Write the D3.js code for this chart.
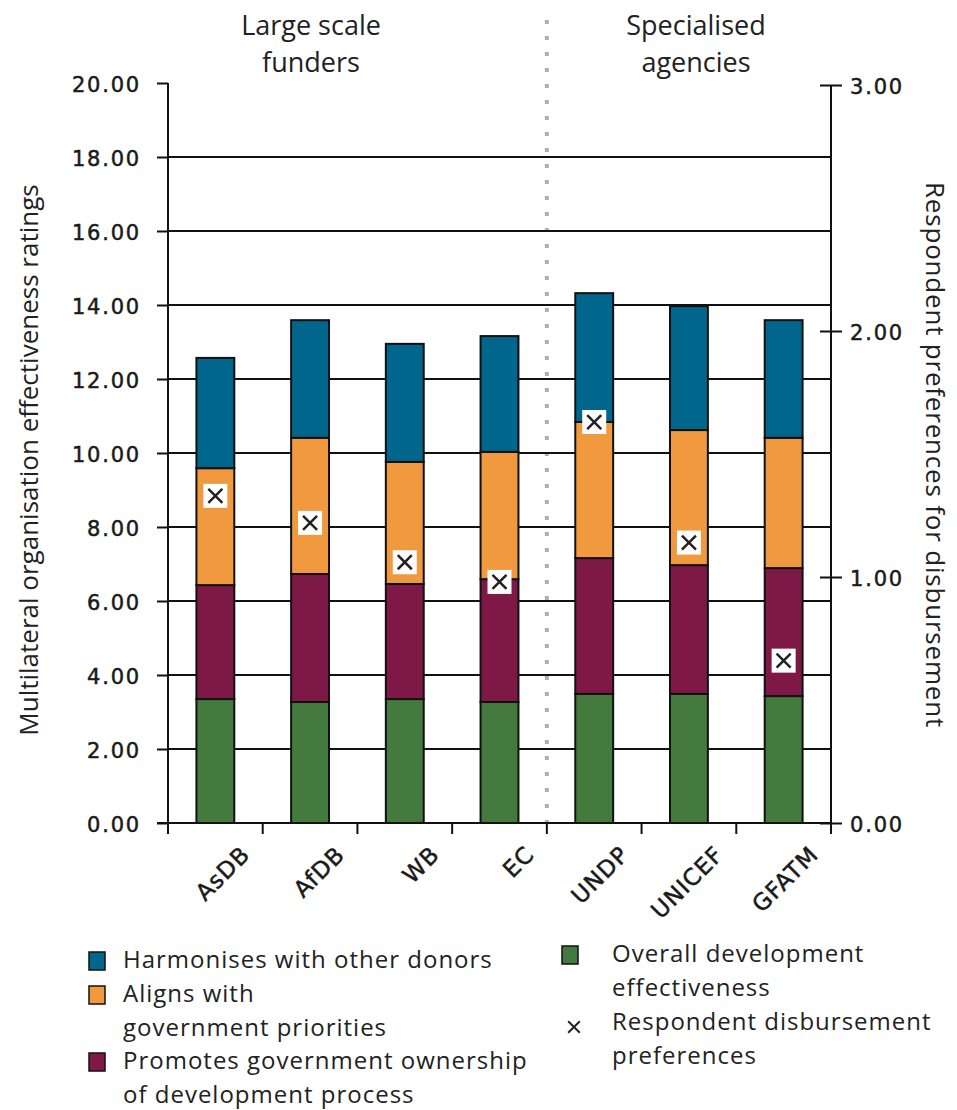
<!DOCTYPE html>
<html>
<head>
<meta charset="utf-8">
<script src="https://cdn.jsdelivr.net/npm/d3@7"></script>
<style>
  body { margin: 0; background: #fff; }
  .lbl { font-family: 'Open Sans', Lato, sans-serif; fill: #222; }
  .tick-lbl { font-family: 'DejaVu Sans', sans-serif; fill: #1a1a1a; stroke: #1a1a1a; stroke-width: 0.5px; }
</style>
</head>
<body>
<svg id="chart" width="957" height="1110"></svg>
<script>
// data
const categories = ['AsDB', 'AfDB', 'WB', 'EC', 'UNDP', 'UNICEF', 'GFATM'];
const overall    = [3.35, 3.27, 3.35, 3.27, 3.49, 3.49, 3.43];
const ownership  = [3.08, 3.46, 3.11, 3.32, 3.67, 3.48, 3.46];
const aligns     = [3.16, 3.68, 3.30, 3.44, 3.68, 3.65, 3.52];
const harmonises = [2.98, 3.18, 3.19, 3.13, 3.48, 3.35, 3.18];
const preferences = [1.33, 1.22, 1.06, 0.98, 1.63, 1.14, 0.66];
const seriesKeys = ['overall', 'ownership', 'aligns', 'harmonises'];
const leftTicks = [0, 2, 4, 6, 8, 10, 12, 14, 16, 18, 20];
const rightTicks = [0, 1, 2, 3];
const groupLabels = [['Large scale', 'funders'], ['Specialised', 'agencies']];

const colors = {overall: '#447a3e', ownership: '#7e1847', aligns: '#f0993f', harmonises: '#00668c'};

const svg = d3.select('#chart');
const margin = {top: 83, right: 126, bottom: 287, left: 168};
const width = +svg.attr('width');
const height = +svg.attr('height');
const x0 = margin.left, x1 = width - margin.right;
const yBottom = height - margin.bottom;

const table = categories.map((c, i) => ({
  cat: c, overall: overall[i], ownership: ownership[i], aligns: aligns[i],
  harmonises: harmonises[i], pref: preferences[i]
}));
const stacked = d3.stack().keys(seriesKeys)(table);

const xScale = d3.scaleBand().domain(categories).range([x0, x1])
  .paddingInner(0.6).paddingOuter(0.3);
const yScale = d3.scaleLinear().domain([0, 20]).range([yBottom, margin.top]);
const yRight = d3.scaleLinear().domain([0, 3]).range([yBottom, margin.top + 2]);

// separator between the two groups
const sepX = xScale('UNDP') - xScale.step() * xScale.paddingInner() / 2;
svg.append('line')
  .attr('x1', sepX).attr('x2', sepX)
  .attr('y1', 20).attr('y2', yBottom)
  .attr('stroke', '#b0b0b0').attr('stroke-width', 4)
  .attr('stroke-dasharray', '4,12');

// gridlines
svg.append('g').selectAll('line')
  .data(leftTicks.filter(d => d > 0 && d < 20))
  .enter().append('line')
  .attr('x1', x0).attr('x2', x1)
  .attr('y1', d => yScale(d)).attr('y2', d => yScale(d))
  .attr('stroke', '#111').attr('stroke-width', 2);

// stacked bars
svg.append('g').selectAll('g')
  .data(stacked)
  .enter().append('g')
  .attr('fill', d => colors[d.key])
  .selectAll('rect')
  .data(d => d)
  .enter().append('rect')
  .attr('x', d => xScale(d.data.cat))
  .attr('width', xScale.bandwidth())
  .attr('y', d => yScale(d[1]))
  .attr('height', d => yScale(d[0]) - yScale(d[1]))
  .attr('stroke', '#111').attr('stroke-width', 2);

// x axis line and ticks at band boundaries
svg.append('line')
  .attr('x1', x0 - 11).attr('x2', x1)
  .attr('y1', yBottom).attr('y2', yBottom)
  .attr('stroke', '#111').attr('stroke-width', 2);
svg.append('g').selectAll('line')
  .data(d3.range(categories.length + 1))
  .enter().append('line')
  .attr('x1', i => x0 + i * xScale.step()).attr('x2', i => x0 + i * xScale.step())
  .attr('y1', yBottom).attr('y2', yBottom + 11)
  .attr('stroke', '#111').attr('stroke-width', 2);

svg.append('g').selectAll('text')
  .data(categories)
  .enter().append('text')
  .attr('class', 'tick-lbl')
  .attr('text-anchor', 'end')
  .attr('font-size', 23)
  .attr('letter-spacing', 1)
  .attr('transform', d => `translate(${xScale(d) + xScale.bandwidth() / 2 + 36}, ${yBottom + 33}) rotate(-45)`)
  .text(d => d);

// left axis
const yAxisG = svg.append('g')
  .attr('transform', `translate(${x0}, 0)`)
  .call(d3.axisLeft(yScale).tickValues(leftTicks).tickSize(11).tickFormat(d3.format('.2f')));
yAxisG.select('.domain').remove();
yAxisG.append('line').attr('y1', yScale(20)).attr('y2', yBottom + 11)
  .attr('stroke', '#111').attr('stroke-width', 2);
yAxisG.selectAll('.tick line').attr('stroke', '#111').attr('stroke-width', 2);
yAxisG.selectAll('.tick text')
  .attr('class', 'tick-lbl')
  .attr('x', -27).attr('dy', '0.4em')
  .attr('font-size', 21).attr('letter-spacing', 1.8);

// right axis
const yRightG = svg.append('g')
  .attr('transform', `translate(${x1}, 0)`)
  .call(d3.axisRight(yRight).tickValues(rightTicks).tickSize(11).tickFormat(d3.format('.2f')));
yRightG.select('.domain').remove();
yRightG.append('line').attr('y1', yRight(3)).attr('y2', yBottom)
  .attr('stroke', '#111').attr('stroke-width', 2);
yRightG.selectAll('.tick line').attr('x1', -11).attr('stroke', '#111').attr('stroke-width', 2);
yRightG.selectAll('.tick text')
  .attr('class', 'tick-lbl')
  .attr('x', 19).attr('dy', '0.4em')
  .attr('font-size', 21).attr('letter-spacing', 1.8);

// preference markers on the right scale
const crossPath = d3.symbol().type(d3.symbolX).size(130)();
const marks = svg.append('g').selectAll('g')
  .data(table)
  .enter().append('g')
  .attr('transform', d => `translate(${xScale(d.cat) + xScale.bandwidth() / 2}, ${yRight(d.pref)})`);
marks.append('rect')
  .attr('x', -12).attr('y', -12).attr('width', 24).attr('height', 24)
  .attr('fill', '#fff');
marks.append('path')
  .attr('d', crossPath)
  .attr('fill', 'none').attr('stroke', '#222').attr('stroke-width', 2.5);

// axis titles
svg.append('text')
  .attr('class', 'lbl')
  .attr('font-size', 26)
  .attr('text-anchor', 'middle')
  .attr('transform', 'translate(38, 460) rotate(-90)')
  .text('Multilateral organisation effectiveness ratings');
svg.append('text')
  .attr('class', 'lbl')
  .attr('font-size', 26)
  .attr('letter-spacing', 0.8)
  .attr('text-anchor', 'middle')
  .attr('transform', 'translate(926, 455) rotate(90)')
  .text('Respondent preferences for disbursement');

// group headings
const headX = [311, 696];
groupLabels.forEach((lines, i) => {
  svg.append('text')
    .attr('class', 'lbl')
    .attr('font-size', 27)
    .attr('text-anchor', 'middle')
    .selectAll('tspan')
    .data(lines)
    .enter().append('tspan')
    .attr('x', headX[i])
    .attr('y', (d, j) => 35 + j * 37)
    .text(d => d);
});

// legend
const legendItems = [
  {key: 'harmonises', lines: ['Harmonises with other donors'], x: 89, y: 952, tx: 34},
  {key: 'aligns', lines: ['Aligns with', 'government priorities'], x: 89, y: 986, tx: 34},
  {key: 'ownership', lines: ['Promotes government ownership', 'of development process'], x: 89, y: 1053, tx: 34},
  {key: 'overall', lines: ['Overall development', 'effectiveness'], x: 562, y: 946, tx: 50},
  {key: 'pref', lines: ['Respondent disbursement', 'preferences'], x: 562, y: 1014, tx: 50}
];
const leg = svg.append('g').selectAll('g')
  .data(legendItems)
  .enter().append('g')
  .attr('transform', d => `translate(${d.x}, ${d.y})`);
leg.filter(d => d.key !== 'pref').append('rect')
  .attr('width', 16).attr('height', 18)
  .attr('fill', d => colors[d.key])
  .attr('stroke', '#111').attr('stroke-width', 1.5);
leg.filter(d => d.key === 'pref').append('path')
  .attr('d', d3.symbol().type(d3.symbolX).size(90)())
  .attr('transform', 'translate(12, 13)')
  .attr('fill', 'none').attr('stroke', '#222').attr('stroke-width', 2);
leg.append('text')
  .attr('class', 'lbl')
  .attr('font-size', 24)
  .attr('letter-spacing', 1)
  .each(function(d) {
    d3.select(this).selectAll('tspan')
      .data(d.lines)
      .enter().append('tspan')
      .attr('x', d.tx)
      .attr('y', (t, j) => 16 + j * 34)
      .text(t => t);
  });
</script>
</body>
</html>
